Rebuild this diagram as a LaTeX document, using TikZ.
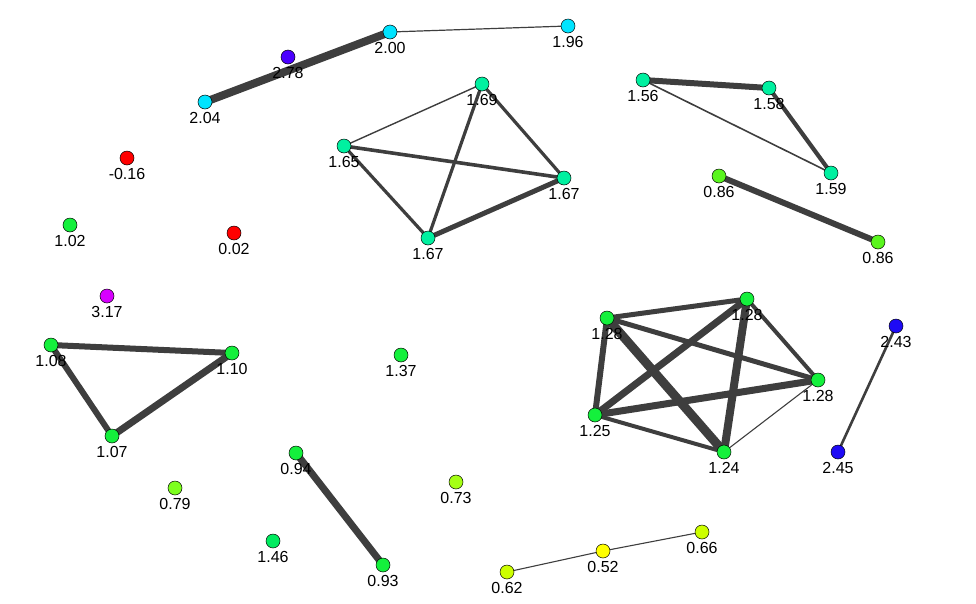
\documentclass[tikz,border=0pt]{standalone}
\usepackage{fontspec}
\setmainfont{Liberation Sans}
\usepackage{tikz}
\usetikzlibrary{backgrounds}
\definecolor{edge_gray}{RGB}{62, 62, 62}
\definecolor{v_red}{RGB}{255, 0, 0}
\definecolor{v_yellow}{RGB}{255, 255, 0}
\definecolor{v_lime}{RGB}{205, 255, 0}
\definecolor{v_ygreen}{RGB}{165, 255, 20}
\definecolor{v_lgreen}{RGB}{125, 255, 30}
\definecolor{v_mgreen}{RGB}{90, 245, 30}
\definecolor{v_green}{RGB}{20, 240, 60}
\definecolor{v_tgreen}{RGB}{0, 235, 95}
\definecolor{v_spring}{RGB}{0, 240, 160}
\definecolor{v_cyan}{RGB}{0, 228, 255}
\definecolor{v_blue}{RGB}{30, 10, 245}
\definecolor{v_violet}{RGB}{75, 0, 255}
\definecolor{v_magenta}{RGB}{215, 0, 255}

\tikzset{
  vtx/.style={circle, draw=black, line width=0.5pt, inner sep=0pt, minimum size=14pt},
  lbl/.style={font=\fontsize{16}{19}\selectfont, inner sep=0pt, label distance=3pt},
  edge/.style={draw=edge_gray}
}

\begin{document}
\begin{tikzpicture}[x=1pt, y=-1pt]
\useasboundingbox (0,0) rectangle (976,603);

% vertices: name/x/y/colour/value
\foreach \n/\x/\y/\c/\v in {
  a204/205/102/v_cyan/2.04, a200/390/32/v_cyan/2.00, a196/568/26/v_cyan/1.96,
  a278/288/57/v_violet/2.78,
  b169/482/84/v_spring/1.69, b165/344/146/v_spring/1.65,
  b167/564/178/v_spring/1.67, c167/428/238/v_spring/1.67,
  d156/643/80/v_spring/1.56, d158/769/88/v_spring/1.58, d159/831/173/v_spring/1.59,
  e086/719/176/v_mgreen/0.86, f086/878/242/v_mgreen/0.86,
  s016/127/158/v_red/-0.16, s102/70/225/v_green/1.02,
  s002/234/233/v_red/0.02, s317/107/296/v_magenta/3.17,
  g108/51/345/v_green/1.08, g110/232/353/v_green/1.10, g107/112/436/v_green/1.07,
  s137/401/355/v_green/1.37,
  h128/607/318/v_green/1.28, i128/747/299/v_green/1.28, j128/818/380/v_green/1.28,
  h125/595/415/v_green/1.25, h124/724/452/v_green/1.24,
  k243/896/326/v_blue/2.43, k245/838/452/v_blue/2.45,
  m094/296/453/v_green/0.94, m093/383/565/v_green/0.93,
  s079/175/488/v_lgreen/0.79, s073/456/482/v_ygreen/0.73,
  s146/273/541/v_tgreen/1.46,
  p062/507/572/v_lime/0.62, p052/603/551/v_yellow/0.52, p066/702/532/v_lime/0.66}
  \node[vtx, fill=\c, label={[lbl]below:\v}] (\n) at (\x,\y) {};

% connectors: from/to/width
\begin{pgfonlayer}{background}
\foreach \a/\b/\w in {
  a204/a200/8, a200/a196/1.2,
  b169/b165/1.4, b169/b167/3.2, b169/c167/3.2, b165/b167/3.6, b165/c167/3.2, c167/b167/5,
  d156/d158/6, d156/d159/1.6, d158/d159/4.2,
  e086/f086/6,
  g108/g110/6, g108/g107/6, g110/g107/7,
  m094/m093/7,
  p062/p052/1.1, p052/p066/1.1,
  k243/k245/2.6,
  h128/i128/5, h128/h125/6, h128/h124/9, h128/j128/5,
  i128/h125/7, i128/h124/8, i128/j128/4,
  h125/j128/7, h125/h124/4, h124/j128/1.1}
  \draw[edge, line width=\w pt] (\a.center) -- (\b.center);
\end{pgfonlayer}

\end{tikzpicture}
\end{document}
